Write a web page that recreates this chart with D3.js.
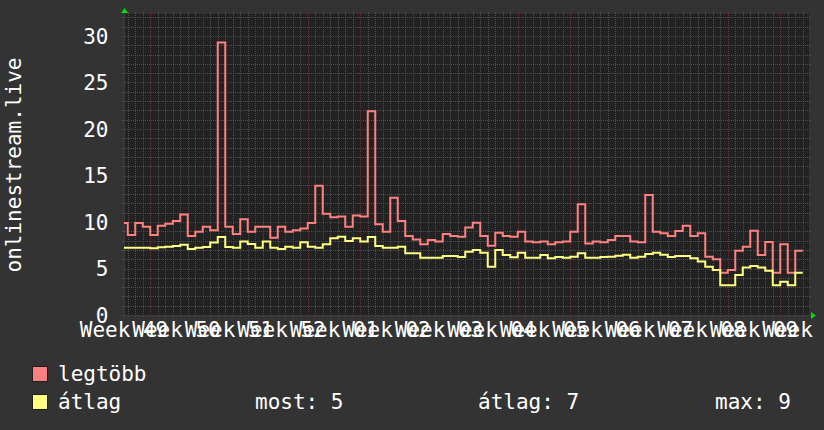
<!DOCTYPE html>
<html><head><meta charset="utf-8">
<script src="https://cdn.jsdelivr.net/npm/d3@7"></script>
<style>
html,body{margin:0;padding:0;background:#333333;}
svg{display:block;}
text{font-family:"DejaVu Sans Mono",monospace;font-size:21px;fill:#ffffff;}
</style></head><body>
<svg id="c" width="824" height="430"></svg>
<script>
// ---- data ----
const seriesNames = ["legtöbb", "átlag"];
const firstDay = "2019-12-05";           // first (partial) day shown
const rangeStart = "2019-12-05T12:00Z";
const rangeEnd = "2020-03-05T20:00Z";
const legtobb = [9.9,8.6,9.9,9.5,8.6,9.6,9.8,10.1,10.8,8.5,8.96,9.5,9.1,29.3,9.5,8.7,
  10.3,8.96,9.5,9.5,8.3,9.5,8.96,9.1,9.3,9.9,13.9,10.9,10.5,10.6,9.5,10.7,
  10.6,21.9,9.75,8.96,12.6,10.1,8.5,8.13,7.6,8.06,7.89,8.7,8.5,8.42,9.4,
  9.93,8.5,7.45,8.85,8.5,8.42,8.96,7.89,7.81,7.89,7.6,7.81,7.89,8.96,11.9,
  7.7,7.89,7.81,8.06,8.5,8.5,7.89,7.81,12.9,8.96,8.78,8.5,9.03,9.6,8.5,8.78,
  6.27,5.99,4.55,4.84,6.92,7.35,9.07,6.45,7.85,4.55,7.6,4.55,6.92];
const atlag = [7.24,7.24,7.24,7.24,7.17,7.28,7.35,7.42,7.56,7.1,7.24,7.3,7.8,8.39,7.3,7.24,
  7.89,7.63,7.24,7.89,7.24,7.1,7.35,7.24,7.81,7.35,7.24,7.6,8.24,8.42,7.96,8.25,
  7.89,8.39,7.42,7.24,7.24,7.35,6.63,6.63,6.16,6.16,6.16,6.34,6.34,6.23,6.81,
  6.99,6.7,5.2,6.99,6.45,6.2,6.7,6.16,6.16,6.45,6.09,6.23,6.16,6.27,6.63,
  6.16,6.16,6.23,6.27,6.38,6.48,6.16,6.27,6.56,6.7,6.48,6.23,6.34,6.34,6.09,5.75,
  5.2,4.84,3.19,3.19,4.3,5.12,5.27,5.12,4.77,3.19,3.58,3.19,4.55];
const yTicks = [0, 5, 10, 15, 20, 25, 30];
const weekLabels = ["Week 49","Week 50","Week 51","Week 52","Week 01","Week 02","Week 03",
  "Week 04","Week 05","Week 06","Week 07","Week 08","Week 09","Week 10"];
const firstLabelWeek = "2019-12-02";
const statLabels = ["most: 5", "átlag: 7", "max: 9"];
const yTitle = "onlinestream.live";
const colors = ["#ff8080", "#ffff80"];

// ---- layout ----
const L = 124, R = 809, T = 14, B = 315;
const svg = d3.select("#c");
svg.append("rect").attr("width", 824).attr("height", 430).attr("fill", "#333333");
svg.append("rect").attr("x", L).attr("y", T).attr("width", R - L).attr("height", B - T).attr("fill", "#222222");

const x = d3.scaleUtc().domain([new Date(rangeStart), new Date(rangeEnd)]).range([L, R]);
const y = d3.scaleLinear().domain([0, 30]).range([B, 36]);
const yTop = y.invert(T);
const px = v => Math.round(v) + 0.5;

const minorCol = "#4f4f4f", majorCol = "#6e3232";
const g = svg.append("g");

// vertical grid
const days = d3.utcDay.range(x.domain()[0], x.domain()[1]);
days.forEach(d => {
  const isMajor = d.getUTCDay() === 1;
  const c = isMajor ? majorCol : minorCol;
  const xx = px(x(d));
  g.append("line").attr("x1", xx).attr("x2", xx).attr("y1", T + 1).attr("y2", B - 1)
    .attr("stroke", c).attr("stroke-dasharray", "1,1");
  g.append("line").attr("x1", xx).attr("x2", xx).attr("y1", T - 2).attr("y2", T).attr("stroke", c);
  g.append("line").attr("x1", xx).attr("x2", xx).attr("y1", B).attr("y2", B + 2).attr("stroke", c);
});
// horizontal grid
d3.range(1, Math.floor(yTop) + 1).forEach(k => {
  const isMajor = yTicks.includes(k);
  const c = isMajor ? majorCol : minorCol;
  const yy = px(y(k));
  g.append("line").attr("x1", L + 1).attr("x2", R - 1).attr("y1", yy).attr("y2", yy)
    .attr("stroke", c).attr("stroke-dasharray", "1,1");
  g.append("line").attr("x1", L - 2).attr("x2", L).attr("y1", yy).attr("y2", yy).attr("stroke", c);
  g.append("line").attr("x1", R).attr("x2", R + 2).attr("y1", yy).attr("y2", yy).attr("stroke", c);
});

// axes
const axisCol = "#3c3c3c";
svg.append("line").attr("x1", L + 0.5).attr("x2", L + 0.5).attr("y1", B + 4).attr("y2", T - 4).attr("stroke", axisCol);
svg.append("line").attr("x1", L - 4).attr("x2", R + 4).attr("y1", B + 0.5).attr("y2", B + 0.5).attr("stroke", axisCol);

// data lines
svg.append("clipPath").attr("id", "clip").append("rect")
  .attr("x", L).attr("y", T).attr("width", R - L).attr("height", B - T);
const d0 = new Date(firstDay + "T00:00Z");
const line = d3.line().x(d => x(d.t)).y(d => y(d.v)).curve(d3.curveStepAfter);
[legtobb, atlag].forEach((arr, si) => {
  const pts = arr.map((v, i) => ({ t: d3.utcDay.offset(d0, i), v }));
  pts.push({ t: d3.utcDay.offset(d0, arr.length), v: arr[arr.length - 1] });
  svg.append("path").attr("d", line(pts)).attr("fill", "none")
    .attr("stroke", colors[si]).attr("stroke-width", 2).attr("clip-path", "url(#clip)");
});

// arrows
svg.append("path").attr("d", `M${L - 3},${T - 1}L${L + 4},${T - 1}L${L + 0.5},${T - 6}Z`).attr("fill", "#00dd00");
svg.append("path").attr("d", `M${R + 2},${B - 3}L${R + 2},${B + 4}L${R + 7},${B + 0.5}Z`).attr("fill", "#00dd00");

// y labels
yTicks.forEach(v => {
  svg.append("text").attr("x", 108.5).attr("y", y(v) + 7.6).attr("text-anchor", "end").text(v);
});
// x labels
const w0 = new Date(firstLabelWeek + "T00:00Z");
weekLabels.forEach((lab, i) => {
  const t = new Date(d3.utcWeek.offset(w0, i).getTime() + 3.5 * 864e5);
  svg.append("text").attr("x", x(t)).attr("y", 337).attr("text-anchor", "middle").text(lab);
});
// y title
svg.append("text").attr("transform", "translate(21,165) rotate(-90)").attr("text-anchor", "middle").text(yTitle);

// legend
const legY = [366, 394];
seriesNames.forEach((n, i) => {
  svg.append("rect").attr("x", 32.5).attr("y", legY[i] + 0.5).attr("width", 15).attr("height", 15)
    .attr("fill", colors[i]).attr("stroke", "#1e1e1e");
  svg.append("text").attr("x", 58).attr("y", legY[i] + 15).text(n);
});
const statX = [255, 478, 715];
statLabels.forEach((s, i) => svg.append("text").attr("x", statX[i]).attr("y", 409).text(s));
</script>
</body></html>
